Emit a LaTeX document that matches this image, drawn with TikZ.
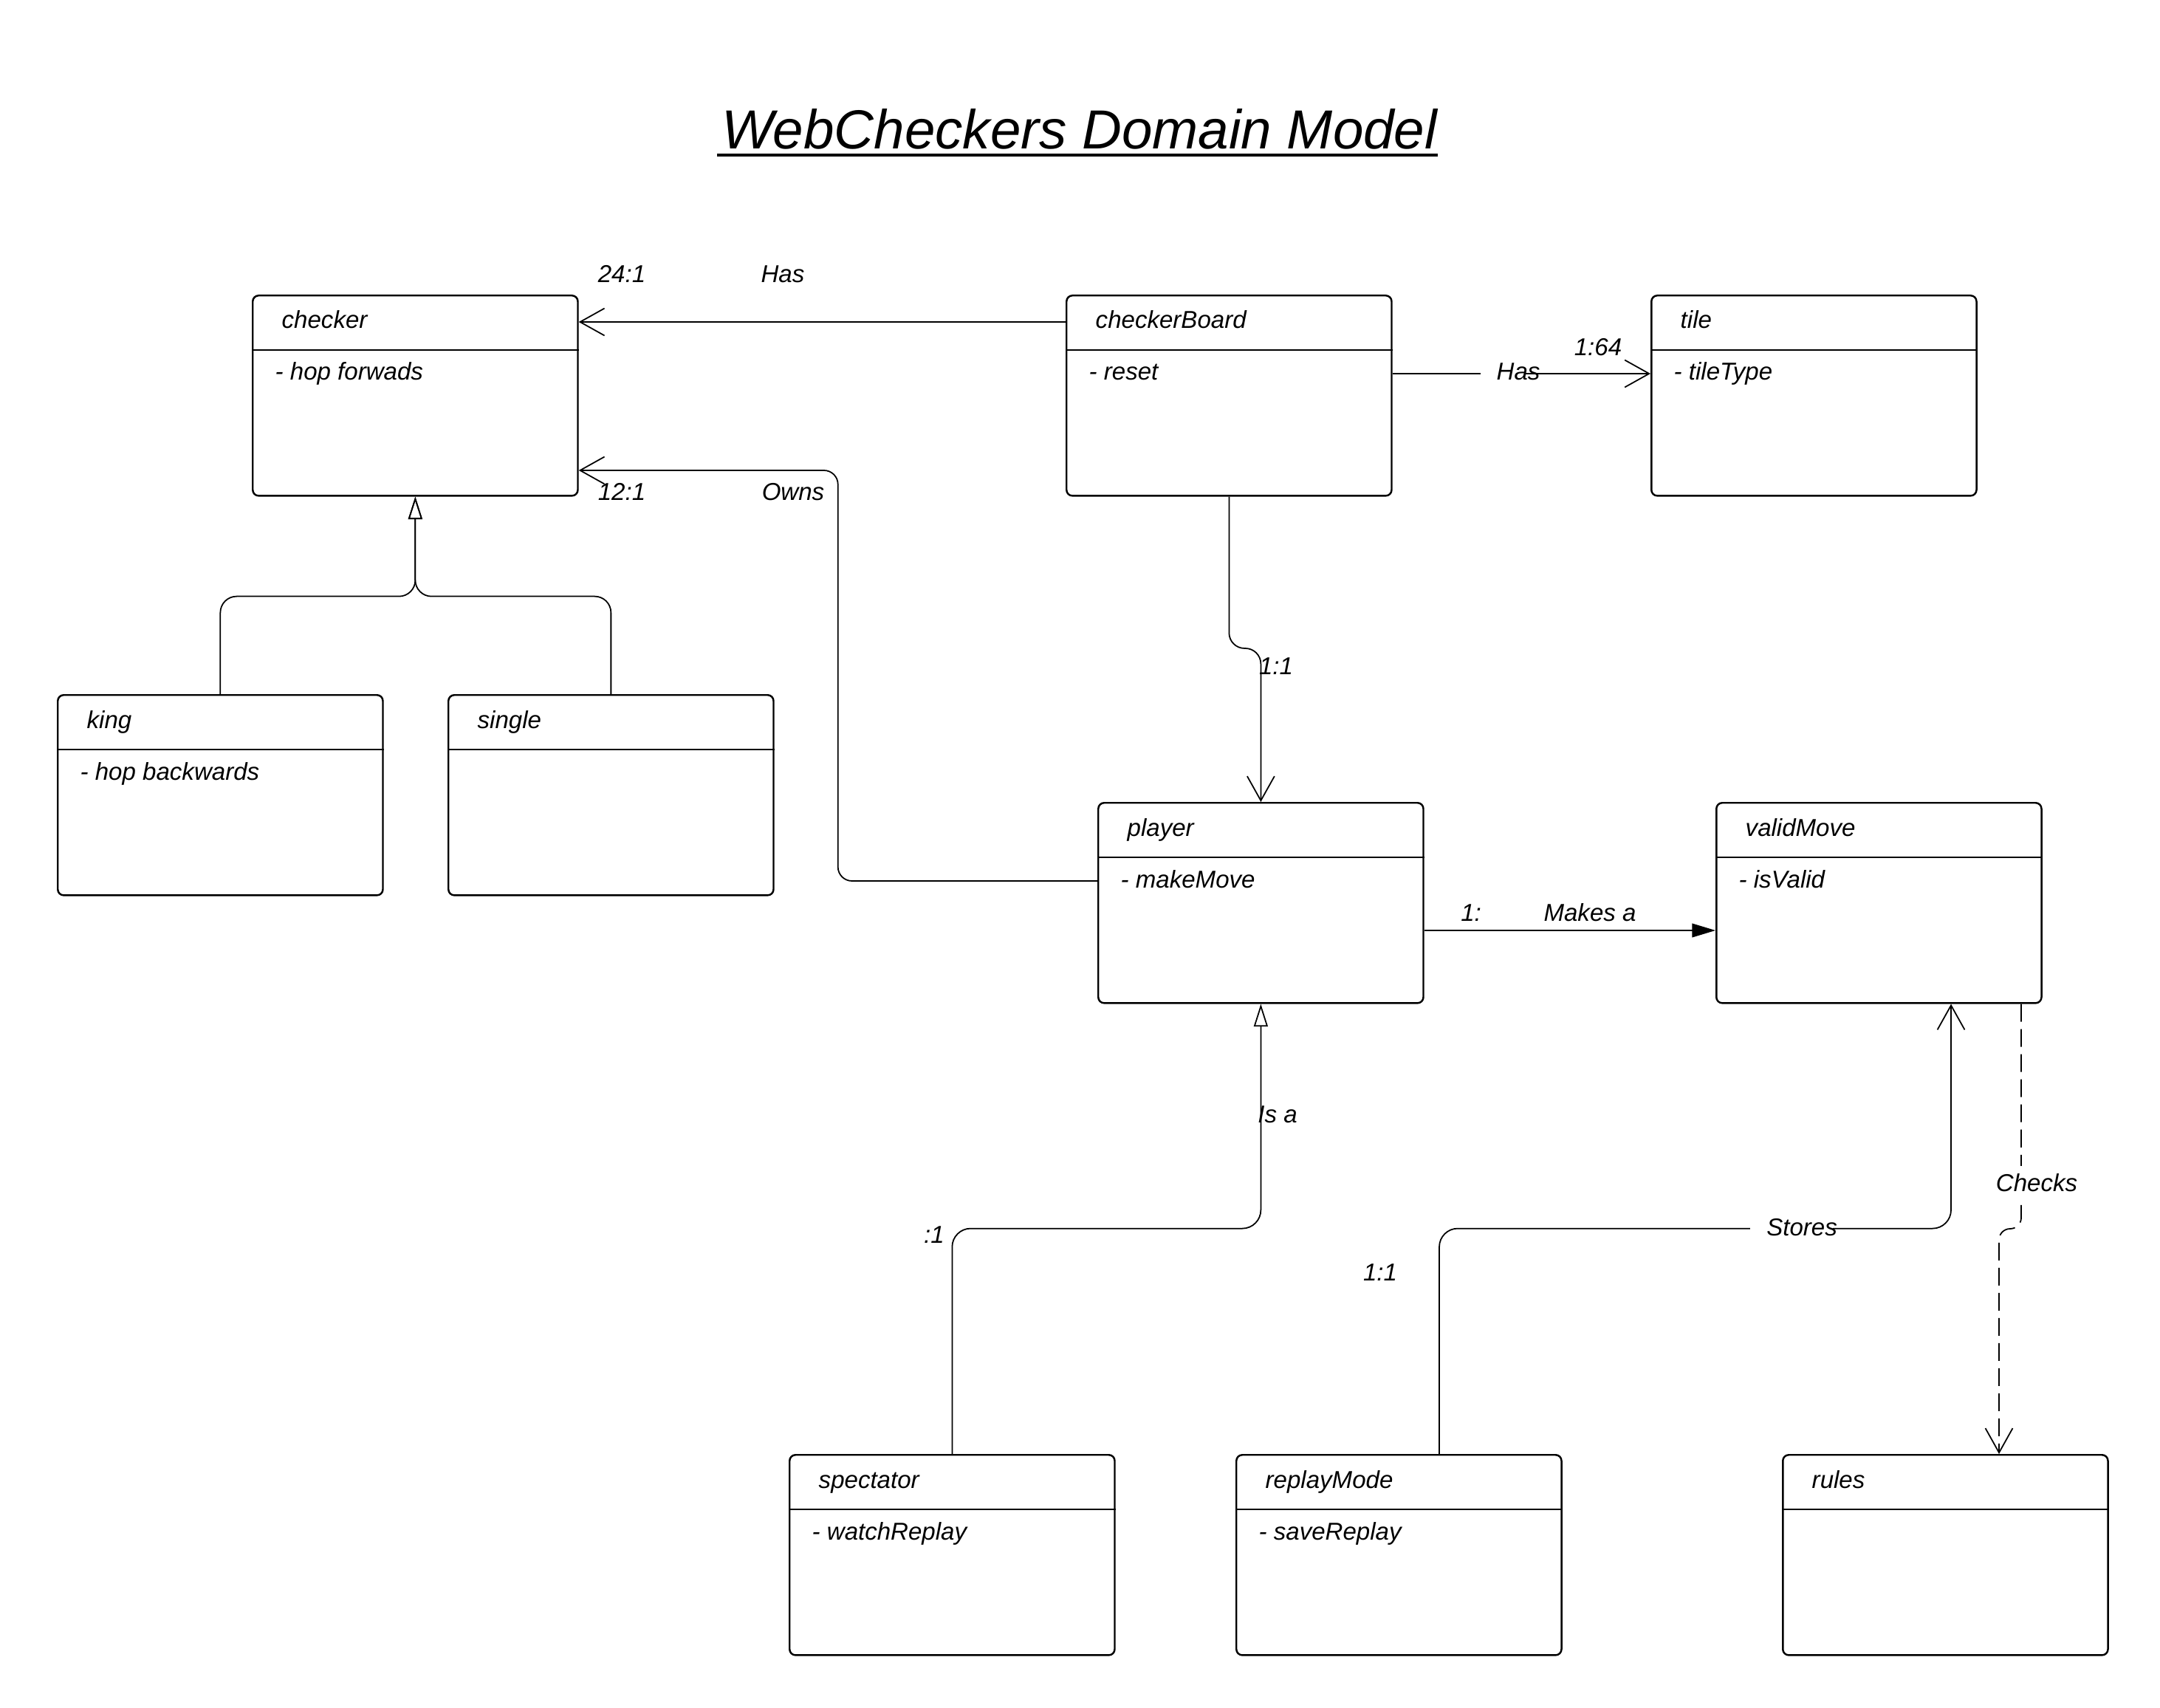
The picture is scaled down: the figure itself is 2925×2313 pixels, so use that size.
\documentclass[tikz,border=0pt]{standalone}
\usepackage{fontspec}
\setmainfont{Liberation Sans}
\usetikzlibrary{arrows.meta,calc}
\newcommand\umlclass[4]{%
  \node[classbox] (#1) at (#2) {};
  \draw[divider] ($(#1.north west)+(0,75)$) -- ($(#1.north east)+(0,75)$);
  \node[txt, anchor=base west] (#1-name) at ($(#1.north west)+(40,46)$) {#3};
  \node[txt, anchor=base west] (#1-attr) at ($(#1.north west)+(31,116)$) {#4};
}
\begin{document}
\begin{tikzpicture}[x={(0.01cm,0)}, y={(0,-0.01cm)},
  classbox/.style={draw, line width=0.7pt, rounded corners=0.08cm, minimum width=4.4cm, minimum height=2.71cm, inner sep=0pt, anchor=north west},
  divider/.style={line width=0.7pt},
  txt/.style={font=\fontsize{9.4}{11}\selectfont\itshape, inner sep=0pt},
  conn/.style={line width=0.5pt},
  openarrow/.style={-{Straight Barb[length=9.4pt,width=10.5pt]}},
  inherit/.style={-{Triangle[open,length=8.7pt,width=5.4pt]}},
  filledarrow/.style={-{Triangle[length=9pt,width=5.3pt]}}
]
\useasboundingbox (0,0) rectangle (2925,2313);
\fill[white] (0,0) rectangle (2925,2313);

% title
\node[font=\fontsize{21.2}{25}\selectfont\itshape, inner sep=0pt, anchor=base] (title) at (1462,202) {WebCheckers Domain Model};
\draw[line width=1.4pt] ($(title.base west)+(-6,8)$) -- ($(title.base east)+(0,8)$);

% classes
\umlclass{ck}{341,399}{checker}{- hop forwads}
\umlclass{cb}{1443,399}{checkerBoard}{- reset}
\umlclass{tile}{2235,399}{tile}{- tileType}
\umlclass{king}{77,940}{king}{- hop backwards}
\umlclass{single}{606,940}{single}{}
\umlclass{pl}{1486,1086}{player}{- makeMove}
\umlclass{vm}{2323,1086}{validMove}{- isValid}
\umlclass{spec}{1068,1969}{spectator}{- watchReplay}
\umlclass{rm}{1673,1969}{replayMode}{- saveReplay}
\umlclass{rules}{2413,1969}{rules}{}

% checkerBoard -> checker (Has)
\draw[conn, openarrow] ($(cb.north west)+(0,37)$) -- ($(ck.north east)+(0,37)$);
\node[txt, anchor=base] (l241) at (842,383) {24:1};
\node[txt, anchor=base] (lhas1) at (1060,383) {Has};

% player -> checker (Owns)
\draw[conn, openarrow, rounded corners=0.19cm] ($(pl.north west)+(0,107)$) -| ($(ck.north east)+(351,238)$) -- ($(ck.north east)+(0,238)$);
\node[txt, anchor=base] (l121) at (842,678) {12:1};
\node[txt, anchor=base] (lowns) at (1074,678) {Owns};

% generalisation king/single -> checker
\coordinate (gen) at ($(ck.south)+(0,135)$);
\draw[conn, inherit, rounded corners=0.22cm] (king.north) |- (gen) -- (ck.south);
\draw[conn, inherit, rounded corners=0.22cm] (single.north) |- (gen) -- (ck.south);

% checkerBoard -> tile (Has)
\draw[conn, openarrow] ($(cb.north east)+(0,107)$) -- ($(tile.north west)+(0,107)$);
\fill[white] (2005,492) rectangle (2066,520);
\node[txt, anchor=base] (lhas2) at (2056,515) {Has};
\node[txt, anchor=base] (l164) at (2164,482) {1:64};

% checkerBoard -> player
\draw[conn, openarrow, rounded corners=0.21cm] (cb.south) |- ($(pl.north)+(0,-208)$) -- (pl.north);
\node[txt, anchor=base] (l11a) at (1728,913) {1:1};

% player -> validMove (Makes a)
\draw[conn, filledarrow] ($(pl.north east)+(0,174)$) -- ($(vm.north west)+(0,174)$);
\node[txt, anchor=base] (l1) at (1992,1247) {1:};
\node[txt, anchor=base] (lmakes) at (2153,1247) {Makes a};

% spectator -> player (Is a)
\draw[conn, inherit, rounded corners=0.25cm] (spec.north) |- ($(pl.south)+(0,304)$) -- (pl.south);
\node[txt, anchor=base] (lisa) at (1730,1520) {Is a};
\node[txt, anchor=base] (lc1) at (1265,1683) {:1};

% replayMode -> validMove (Stores)
\draw[conn, openarrow, rounded corners=0.25cm] ($(rm.north west)+(276,0)$) |- ($(vm.south west)+(319,304)$) -- ($(vm.south west)+(319,0)$);
\fill[white] (2370,1652) rectangle (2482,1674);
\node[txt, anchor=base] (lstores) at (2440,1673) {Stores};
\node[txt, anchor=base] (l11b) at (1869,1734) {1:1};

% validMove -> rules (Checks)
\draw[conn, openarrow, dash pattern=on 0.24cm off 0.10cm, rounded corners=0.15cm] ($(vm.south west)+(414,0)$) |- ($(rules.north west)+(294,-305)$) -- ($(rules.north west)+(294,0)$);
\node[txt, anchor=base, fill=white, inner xsep=1pt, inner ysep=3pt] (lchecks) at (2758,1613) {Checks};
\end{tikzpicture}
\end{document}
